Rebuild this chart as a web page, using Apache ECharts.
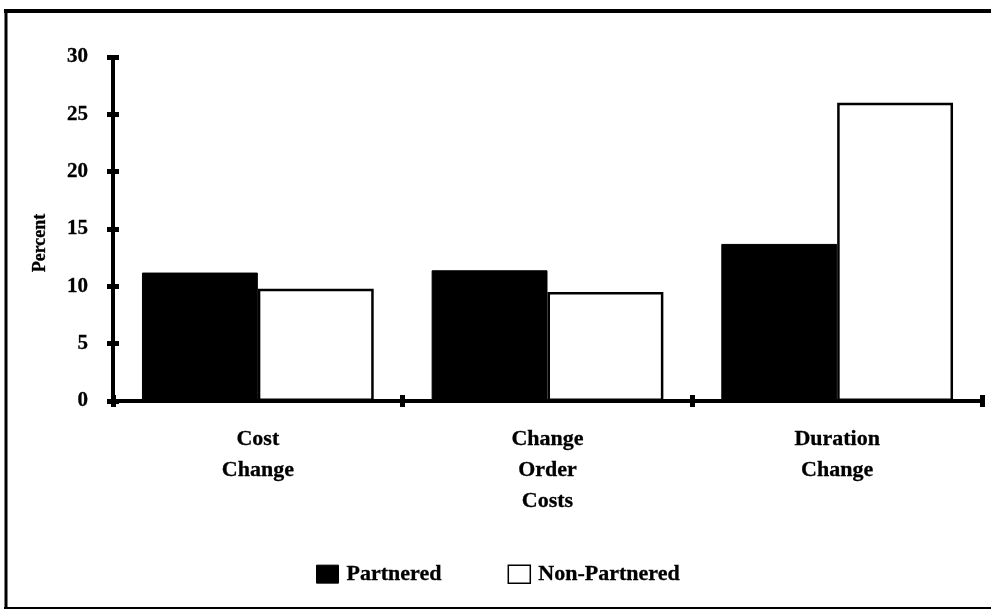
<!DOCTYPE html>
<html>
<head>
<meta charset="utf-8">
<script src="https://cdn.jsdelivr.net/npm/echarts@6/dist/echarts.min.js"></script>
<style>html,body{margin:0;padding:0;background:#fff;}#c{width:991px;height:612px;}</style>
</head>
<body>
<div id="c"></div>
<script>
const categories = ['Cost\nChange', 'Change\nOrder\nCosts', 'Duration\nChange'];
const partnered = [11.2, 11.4, 13.7];
const nonPartnered = [9.8, 9.5, 26.0];
const yTicks = [0, 5, 10, 15, 20, 25, 30];

const FONT = '"Liberation Serif", "Times New Roman", serif';
const BOLD = {fontFamily: FONT, fontWeight: 'bold', color: '#000', textBorderColor: '#000', textBorderWidth: 0.3};
const chart = echarts.init(document.getElementById('c'), null, {renderer: 'canvas'});
const yMin = yTicks[0], yMax = yTicks[yTicks.length - 1], yInt = yTicks[1] - yTicks[0];
chart.setOption({
  animation: false,
  backgroundColor: '#fff',
  grid: {left: 113, right: 9, top: 57, bottom: 211, containLabel: false},
  legend: {
    data: [
      {name: 'Partnered', itemStyle: {color: '#000', borderColor: '#000', borderWidth: 1}},
      {name: 'Non-Partnered', itemStyle: {color: '#fff', borderColor: '#000', borderWidth: 1.5}}
    ],
    left: 311, top: 558, itemWidth: 22, itemHeight: 18, itemGap: 66,
    icon: 'rect',
    textStyle: Object.assign({fontSize: 22, padding: [0,0,0,3]}, BOLD)
  },
  xAxis: [{
    type: 'category', data: categories, position: 'bottom',
    axisLine: {lineStyle: {color: '#000', width: 4}},
    axisTick: {show: true, length: 6, lineStyle: {color: '#000', width: 5}},
    axisLabel: Object.assign({fontSize: 22, lineHeight: 31, margin: 23}, BOLD)
  }, {
    type: 'category', data: categories, position: 'bottom', offset: 0,
    axisLine: {show: false},
    axisTick: {show: true, inside: true, length: 6, lineStyle: {color: '#000', width: 5}},
    axisLabel: {show: false}
  }],
  yAxis: [{
    type: 'value', min: yMin, max: yMax, interval: yInt,
    name: 'Percent', nameLocation: 'middle', nameGap: 64, nameRotate: 90,
    nameTextStyle: Object.assign({fontSize: 18, padding: [0, 28, 0, 0]}, BOLD),
    axisLine: {show: true, lineStyle: {color: '#000', width: 4}},
    axisTick: {show: true, length: 6, lineStyle: {color: '#000', width: 5}},
    axisLabel: Object.assign({fontSize: 21, margin: 25}, BOLD),
    splitLine: {show: false}
  }, {
    type: 'value', min: yMin, max: yMax, interval: yInt, position: 'left', offset: 0,
    axisLine: {show: false},
    axisTick: {show: true, inside: true, length: 6, lineStyle: {color: '#000', width: 5}},
    axisLabel: {show: false}, splitLine: {show: false}
  }],
  series: [{
    name: 'Partnered', type: 'bar', data: partnered, barGap: '0%', barCategoryGap: '20%',
    itemStyle: {color: '#000', borderColor: '#000', borderWidth: 1}
  }, {
    name: 'Non-Partnered', type: 'bar', data: nonPartnered, barGap: '0%', barCategoryGap: '20%',
    itemStyle: {color: '#fff', borderColor: '#000', borderWidth: 2.5}
  }],
  graphic: [
    {type: 'line', shape: {x1: 4, y1: 11, x2: 991, y2: 11}, style: {stroke: '#000', lineWidth: 4}},
    {type: 'line', shape: {x1: 6, y1: 9, x2: 6, y2: 609}, style: {stroke: '#000', lineWidth: 3}},
    {type: 'line', shape: {x1: 4, y1: 608, x2: 991, y2: 608}, style: {stroke: '#000', lineWidth: 2}}
  ]
});
</script>
</body>
</html>
